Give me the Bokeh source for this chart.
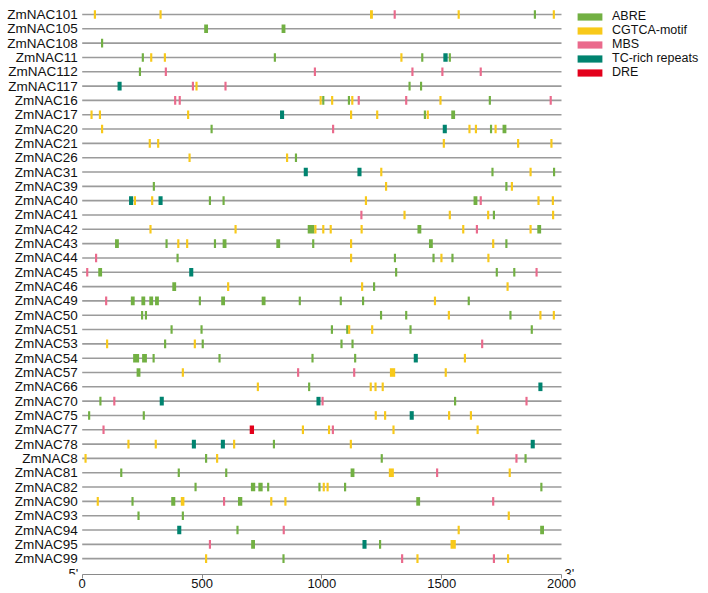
from bokeh.plotting import figure
from bokeh.models import (Range1d, LinearAxis, FixedTicker, Legend, LegendItem,
                          Label, ColumnDataSource)
from bokeh.core.properties import value
from bokeh.embed import file_html
from bokeh.resources import INLINE

# ---------------- data ----------------
genes = ["ZmNAC101", "ZmNAC105", "ZmNAC108", "ZmNAC11", "ZmNAC112", "ZmNAC117",
         "ZmNAC16", "ZmNAC17", "ZmNAC20", "ZmNAC21", "ZmNAC26", "ZmNAC31",
         "ZmNAC39", "ZmNAC40", "ZmNAC41", "ZmNAC42", "ZmNAC43", "ZmNAC44",
         "ZmNAC45", "ZmNAC46", "ZmNAC49", "ZmNAC50", "ZmNAC51", "ZmNAC53",
         "ZmNAC54", "ZmNAC57", "ZmNAC66", "ZmNAC70", "ZmNAC75", "ZmNAC77",
         "ZmNAC78", "ZmNAC8", "ZmNAC81", "ZmNAC82", "ZmNAC90", "ZmNAC93",
         "ZmNAC94", "ZmNAC95", "ZmNAC99"]

seq_start, seq_end = 0, 2000          # promoter region (bp)
x_ticks = [0, 500, 1000, 1500, 2000]

motif_names = ["ABRE", "CGTCA-motif", "MBS", "TC-rich repeats", "DRE"]
motif_colors = ["#72B043", "#F8C91A", "#EA6A8C", "#00836F", "#E3001B"]

# (gene, centre position bp, element span bp)
abre_sites = [
    ("ZmNAC101", 1889, 9),
    ("ZmNAC105", 517, 16), ("ZmNAC105", 840, 16),
    ("ZmNAC108", 83, 9),
    ("ZmNAC11", 253, 9), ("ZmNAC11", 804, 9), ("ZmNAC11", 1419, 9), ("ZmNAC11", 1534, 9),
    ("ZmNAC112", 241, 9),
    ("ZmNAC117", 1366, 9), ("ZmNAC117", 1414, 9),
    ("ZmNAC16", 1006, 9), ("ZmNAC16", 1113, 9), ("ZmNAC16", 1701, 9),
    ("ZmNAC17", 1430, 9), ("ZmNAC17", 1548, 16),
    ("ZmNAC20", 540, 9), ("ZmNAC20", 1706, 9), ("ZmNAC20", 1762, 16),
    ("ZmNAC26", 892, 9),
    ("ZmNAC31", 1712, 9), ("ZmNAC31", 1969, 9),
    ("ZmNAC39", 299, 9), ("ZmNAC39", 1770, 9),
    ("ZmNAC40", 533, 9), ("ZmNAC40", 590, 9), ("ZmNAC40", 1641, 16),
    ("ZmNAC41", 1718, 9),
    ("ZmNAC42", 955, 28), ("ZmNAC42", 1407, 16), ("ZmNAC42", 1907, 16),
    ("ZmNAC43", 145, 16), ("ZmNAC43", 352, 9), ("ZmNAC43", 554, 9), ("ZmNAC43", 594, 16),
    ("ZmNAC43", 818, 16), ("ZmNAC43", 964, 9), ("ZmNAC43", 1455, 16), ("ZmNAC43", 1770, 9),
    ("ZmNAC44", 398, 9), ("ZmNAC44", 1305, 9), ("ZmNAC44", 1466, 9), ("ZmNAC44", 1545, 9),
    ("ZmNAC45", 75, 16), ("ZmNAC45", 1310, 9), ("ZmNAC45", 1730, 9), ("ZmNAC45", 1803, 9),
    ("ZmNAC46", 384, 16), ("ZmNAC46", 1218, 9),
    ("ZmNAC49", 211, 16), ("ZmNAC49", 255, 16), ("ZmNAC49", 288, 16), ("ZmNAC49", 312, 16),
    ("ZmNAC49", 491, 9), ("ZmNAC49", 588, 16), ("ZmNAC49", 757, 16), ("ZmNAC49", 908, 9),
    ("ZmNAC49", 1079, 9), ("ZmNAC49", 1172, 9), ("ZmNAC49", 1613, 9),
    ("ZmNAC50", 250, 9), ("ZmNAC50", 266, 9), ("ZmNAC50", 1247, 9), ("ZmNAC50", 1352, 9),
    ("ZmNAC50", 1787, 9),
    ("ZmNAC51", 373, 9), ("ZmNAC51", 498, 9), ("ZmNAC51", 1042, 9), ("ZmNAC51", 1106, 9),
    ("ZmNAC51", 1370, 9), ("ZmNAC51", 1876, 9),
    ("ZmNAC53", 346, 9), ("ZmNAC53", 503, 9), ("ZmNAC53", 1082, 9), ("ZmNAC53", 1128, 9),
    ("ZmNAC54", 225, 25), ("ZmNAC54", 260, 20), ("ZmNAC54", 298, 9), ("ZmNAC54", 573, 9),
    ("ZmNAC54", 961, 9), ("ZmNAC54", 1139, 9),
    ("ZmNAC57", 235, 16),
    ("ZmNAC66", 947, 9),
    ("ZmNAC70", 76, 9), ("ZmNAC70", 1556, 9),
    ("ZmNAC75", 29, 9), ("ZmNAC75", 257, 9),
    ("ZmNAC78", 800, 9),
    ("ZmNAC8", 517, 9), ("ZmNAC8", 1250, 9), ("ZmNAC8", 1850, 9),
    ("ZmNAC81", 163, 9), ("ZmNAC81", 403, 9), ("ZmNAC81", 601, 9), ("ZmNAC81", 1128, 16),
    ("ZmNAC82", 473, 9), ("ZmNAC82", 713, 18), ("ZmNAC82", 744, 18), ("ZmNAC82", 776, 9),
    ("ZmNAC82", 990, 9), ("ZmNAC82", 1097, 9), ("ZmNAC82", 1916, 9),
    ("ZmNAC90", 210, 9), ("ZmNAC90", 380, 17), ("ZmNAC90", 659, 18), ("ZmNAC90", 1402, 16),
    ("ZmNAC93", 235, 9), ("ZmNAC93", 420, 9),
    ("ZmNAC94", 648, 9), ("ZmNAC94", 1919, 16),
    ("ZmNAC95", 713, 16), ("ZmNAC95", 1243, 9),
    ("ZmNAC99", 840, 9),
]

cgtca_sites = [
    ("ZmNAC101", 53, 9), ("ZmNAC101", 327, 9), ("ZmNAC101", 1207, 12), ("ZmNAC101", 1571, 9),
    ("ZmNAC101", 1968, 9),
    ("ZmNAC11", 288, 9), ("ZmNAC11", 345, 9), ("ZmNAC11", 1332, 9),
    ("ZmNAC117", 477, 9),
    ("ZmNAC16", 995, 9), ("ZmNAC16", 1043, 9), ("ZmNAC16", 1127, 9), ("ZmNAC16", 1495, 9),
    ("ZmNAC17", 39, 9), ("ZmNAC17", 74, 9), ("ZmNAC17", 442, 9), ("ZmNAC17", 1122, 9),
    ("ZmNAC17", 1231, 9), ("ZmNAC17", 1442, 9),
    ("ZmNAC20", 83, 9), ("ZmNAC20", 1616, 9), ("ZmNAC20", 1643, 9), ("ZmNAC20", 1725, 9),
    ("ZmNAC21", 282, 9), ("ZmNAC21", 317, 9), ("ZmNAC21", 1509, 9), ("ZmNAC21", 1819, 9),
    ("ZmNAC21", 1958, 9),
    ("ZmNAC26", 448, 9), ("ZmNAC26", 855, 9),
    ("ZmNAC31", 1248, 9), ("ZmNAC31", 1871, 9),
    ("ZmNAC39", 1268, 9), ("ZmNAC39", 1793, 9),
    ("ZmNAC40", 220, 9), ("ZmNAC40", 292, 9), ("ZmNAC40", 1184, 9), ("ZmNAC40", 1904, 9),
    ("ZmNAC40", 1964, 9),
    ("ZmNAC41", 1345, 9), ("ZmNAC41", 1534, 9), ("ZmNAC41", 1694, 9), ("ZmNAC41", 1965, 9),
    ("ZmNAC42", 285, 9), ("ZmNAC42", 640, 9), ("ZmNAC42", 973, 9), ("ZmNAC42", 1006, 9),
    ("ZmNAC42", 1037, 9), ("ZmNAC42", 1166, 9), ("ZmNAC42", 1590, 9), ("ZmNAC42", 1871, 9),
    ("ZmNAC43", 401, 9), ("ZmNAC43", 438, 9), ("ZmNAC43", 1122, 9), ("ZmNAC43", 1715, 9),
    ("ZmNAC44", 1122, 9), ("ZmNAC44", 1499, 9), ("ZmNAC44", 1695, 9),
    ("ZmNAC46", 609, 9), ("ZmNAC46", 1168, 9), ("ZmNAC46", 1775, 9),
    ("ZmNAC49", 1472, 9),
    ("ZmNAC50", 1530, 9), ("ZmNAC50", 1912, 9), ("ZmNAC50", 1968, 9),
    ("ZmNAC51", 1114, 9), ("ZmNAC51", 1210, 9),
    ("ZmNAC53", 104, 9), ("ZmNAC53", 470, 9),
    ("ZmNAC54", 1597, 9),
    ("ZmNAC57", 420, 9), ("ZmNAC57", 1295, 22), ("ZmNAC57", 1517, 9),
    ("ZmNAC66", 733, 9), ("ZmNAC66", 1204, 9), ("ZmNAC66", 1224, 9), ("ZmNAC66", 1254, 9),
    ("ZmNAC75", 1225, 9), ("ZmNAC75", 1264, 9), ("ZmNAC75", 1531, 9), ("ZmNAC75", 1622, 9),
    ("ZmNAC77", 921, 9), ("ZmNAC77", 1030, 9), ("ZmNAC77", 1299, 9), ("ZmNAC77", 1650, 9),
    ("ZmNAC78", 193, 9), ("ZmNAC78", 307, 9), ("ZmNAC78", 634, 9), ("ZmNAC78", 1121, 9),
    ("ZmNAC8", 14, 9), ("ZmNAC8", 563, 9),
    ("ZmNAC81", 1290, 21), ("ZmNAC81", 1784, 9),
    ("ZmNAC82", 1008, 9), ("ZmNAC82", 1024, 9),
    ("ZmNAC90", 65, 9), ("ZmNAC90", 419, 15), ("ZmNAC90", 789, 9), ("ZmNAC90", 848, 9),
    ("ZmNAC93", 1780, 9),
    ("ZmNAC94", 1571, 9),
    ("ZmNAC95", 1548, 22),
    ("ZmNAC99", 517, 9), ("ZmNAC99", 1399, 9), ("ZmNAC99", 1777, 9),
]

mbs_sites = [
    ("ZmNAC101", 1304, 9),
    ("ZmNAC112", 349, 9), ("ZmNAC112", 971, 9), ("ZmNAC112", 1378, 9), ("ZmNAC112", 1503, 9),
    ("ZmNAC112", 1663, 9),
    ("ZmNAC117", 462, 9), ("ZmNAC117", 598, 9),
    ("ZmNAC16", 388, 9), ("ZmNAC16", 407, 9), ("ZmNAC16", 1154, 9), ("ZmNAC16", 1352, 9),
    ("ZmNAC16", 1955, 9),
    ("ZmNAC20", 1047, 9),
    ("ZmNAC40", 1663, 9),
    ("ZmNAC41", 1165, 9),
    ("ZmNAC42", 1647, 9),
    ("ZmNAC44", 58, 9),
    ("ZmNAC45", 21, 9), ("ZmNAC45", 1896, 9),
    ("ZmNAC49", 100, 9),
    ("ZmNAC53", 1669, 9),
    ("ZmNAC57", 901, 9), ("ZmNAC57", 1135, 9),
    ("ZmNAC70", 134, 9), ("ZmNAC70", 1003, 9), ("ZmNAC70", 1854, 9),
    ("ZmNAC77", 89, 9), ("ZmNAC77", 1046, 9),
    ("ZmNAC8", 1812, 9),
    ("ZmNAC81", 1481, 9),
    ("ZmNAC90", 592, 9), ("ZmNAC90", 1715, 9),
    ("ZmNAC94", 841, 9),
    ("ZmNAC95", 533, 9),
    ("ZmNAC99", 1335, 9), ("ZmNAC99", 1718, 9),
]

tc_sites = [
    ("ZmNAC11", 1516, 18),
    ("ZmNAC117", 156, 17),
    ("ZmNAC17", 834, 17),
    ("ZmNAC20", 1513, 17),
    ("ZmNAC31", 933, 17), ("ZmNAC31", 1157, 17),
    ("ZmNAC40", 204, 17), ("ZmNAC40", 327, 17),
    ("ZmNAC45", 455, 17),
    ("ZmNAC54", 1392, 17),
    ("ZmNAC66", 1912, 17),
    ("ZmNAC70", 332, 17), ("ZmNAC70", 986, 17),
    ("ZmNAC75", 1375, 17),
    ("ZmNAC78", 466, 17), ("ZmNAC78", 587, 17), ("ZmNAC78", 1880, 17),
    ("ZmNAC94", 405, 17),
    ("ZmNAC95", 1178, 17),
]

dre_sites = [
    ("ZmNAC77", 708, 18),
]

all_sites = [abre_sites, cgtca_sites, mbs_sites, tc_sites, dre_sites]

# ---------------- layout ----------------
FONT = "Liberation Sans"
TXT = "#111111"
W, H = 708, 593
ORIGIN_PX = 81.7            # x pixel of position 0
px_per_bp = 0.23965
ROW0_PX = 14.0              # y pixel of first gene
row_px = 14.32
AXIS_PX = 574.0             # y pixel of the bottom axis line

x_start = -ORIGIN_PX / px_per_bp
x_end = (W - ORIGIN_PX) / px_per_bp
y_top = -ROW0_PX / row_px
y_bot = (AXIS_PX - ROW0_PX) / row_px

p = figure(width=W, height=H, output_backend="svg", toolbar_location=None,
           x_range=Range1d(x_start, x_end), y_range=Range1d(y_bot, y_top),
           x_axis_location=None, y_axis_location=None,
           min_border_left=0, min_border_right=0, min_border_top=0,
           min_border_bottom=H - int(AXIS_PX))
p.grid.visible = False
p.outline_line_color = None
p.background_fill_color = "white"
p.border_fill_color = "white"

rows = list(range(len(genes)))
row_of = {g: i for i, g in enumerate(genes)}

# gene backbone lines
p.segment(x0=[seq_start] * len(genes), x1=[seq_end] * len(genes), y0=rows, y1=rows,
          line_color="#9b9b9b", line_width=1.6)

# gene names
p.text(x=[seq_start] * len(genes), y=rows, text=genes, x_offset=-4.5,
       text_align="right", text_baseline="middle",
       text_font=value(FONT), text_font_size="13.5px", text_color=TXT)

renderers = []
for name, color, sites in zip(motif_names, motif_colors, all_sites):
    src = ColumnDataSource(dict(x=[s[1] for s in sites],
                                y=[row_of[s[0]] for s in sites],
                                w=[s[2] for s in sites]))
    r = p.rect(x="x", y="y", width="w", height=0.6, source=src,
               fill_color=color, line_color=None)
    renderers.append(r)

# x axis
xax = LinearAxis(ticker=FixedTicker(ticks=x_ticks), bounds=(seq_start, seq_end),
                 axis_line_color="#8a8a8a", axis_line_width=1.2,
                 major_tick_line_color="#8a8a8a", major_tick_in=0, major_tick_out=4,
                 minor_tick_line_color=None, major_label_standoff=0,
                 major_label_text_font=FONT, major_label_text_font_size="13px",
                 major_label_text_color=TXT)
p.add_layout(xax, "below")

p.add_layout(Label(x=seq_start, y=y_bot, text="5'", x_offset=-4, y_offset=1,
                   text_align="right", text_baseline="alphabetic",
                   text_font=FONT, text_font_size="13px", text_color=TXT))
p.add_layout(Label(x=seq_end, y=y_bot, text="3'", x_offset=3, y_offset=1,
                   text_align="left", text_baseline="alphabetic",
                   text_font=FONT, text_font_size="13px", text_color=TXT))

leg_top = 9.3
leg_h = 5 * 14
legend = Legend(items=[LegendItem(label=n, renderers=[r]) for n, r in zip(motif_names, renderers)],
                location=(574, AXIS_PX - leg_top - leg_h),
                glyph_width=31, glyph_height=9, label_height=14, spacing=0,
                label_standoff=7, padding=0, margin=0,
                border_line_color=None, background_fill_alpha=0,
                label_text_font=FONT, label_text_font_size="12.5px",
                label_text_color=TXT)
p.add_layout(legend)

open("out.html", "w").write(file_html(p, INLINE))
